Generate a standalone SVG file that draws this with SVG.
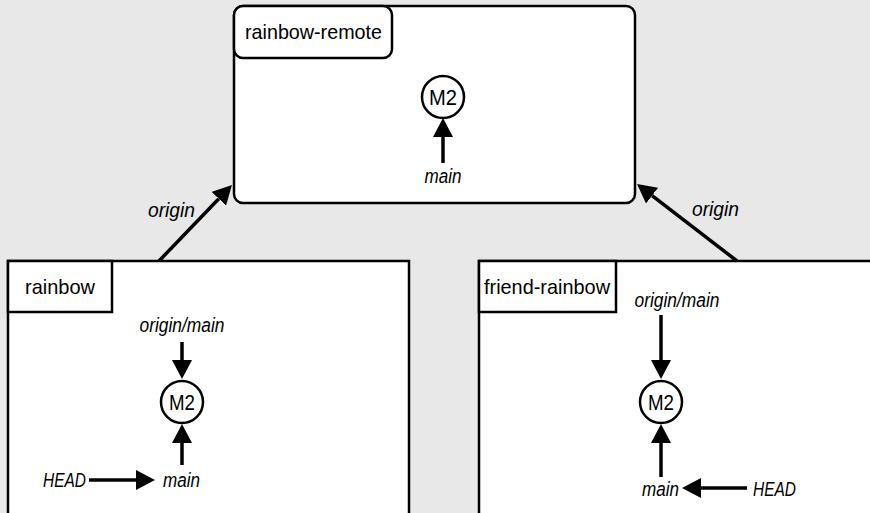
<svg xmlns="http://www.w3.org/2000/svg" width="870" height="513" viewBox="0 0 870 513">
<defs>
<marker id="ah" markerUnits="userSpaceOnUse" viewBox="0 0 19 20" markerWidth="19" markerHeight="20" refX="0" refY="10" orient="auto">
<path d="M0,0 L19,10 L0,20 z" fill="#000"/>
</marker>
<style>
.box{fill:#fff;stroke:#000;stroke-width:2.5}
.lbl{fill:#fff;stroke:#000;stroke-width:2.5}
.commit{fill:#fff;stroke:#000;stroke-width:2.5}
.t{font-family:"Liberation Sans",Arial,sans-serif;font-size:21px;fill:#000}
.m{font-family:"Liberation Sans",Arial,sans-serif;font-size:22px;fill:#000;text-anchor:middle}
.i{font-family:"Liberation Sans",Arial,sans-serif;font-size:20px;font-style:italic;fill:#000}
.c{text-anchor:middle}
.arr{stroke:#000;stroke-width:3.5;fill:none;marker-end:url(#ah)}
</style>
</defs>
<rect width="870" height="513" fill="#e8e8e8"/>

<g id="rainbow-remote">
<rect class="box" x="234" y="6" width="401" height="197" rx="9"/>
<rect class="lbl" x="234" y="6" width="158" height="52" rx="9"/>
<text class="t" x="245" y="39" textLength="137" lengthAdjust="spacingAndGlyphs">rainbow-remote</text>
<circle class="commit" cx="443" cy="97" r="21"/>
<text class="m" x="443" y="105" textLength="28" lengthAdjust="spacingAndGlyphs">M2</text>
<line class="arr" x1="443" y1="163" x2="443" y2="137"/>
<text class="i c" x="443" y="183" textLength="37" lengthAdjust="spacingAndGlyphs">main</text>
</g>

<g id="rainbow">
<rect class="box" x="8" y="261" width="401" height="262"/>
<rect class="lbl" x="8" y="261" width="104" height="51"/>
<text class="t" x="25" y="294" textLength="70" lengthAdjust="spacingAndGlyphs">rainbow</text>
<text class="i c" x="182" y="332" textLength="85" lengthAdjust="spacingAndGlyphs">origin/main</text>
<line class="arr" x1="182" y1="342" x2="182" y2="360"/>
<circle class="commit" cx="182" cy="402" r="21"/>
<text class="m" x="182" y="410" textLength="26" lengthAdjust="spacingAndGlyphs">M2</text>
<line class="arr" x1="182" y1="465" x2="182" y2="443"/>
<text class="i" x="43" y="487" textLength="43" lengthAdjust="spacingAndGlyphs">HEAD</text>
<line class="arr" x1="89" y1="480" x2="136" y2="480"/>
<text class="i" x="163" y="487" textLength="37" lengthAdjust="spacingAndGlyphs">main</text>
</g>

<g id="friend-rainbow">
<rect class="box" x="479" y="261" width="420" height="262"/>
<rect class="lbl" x="479" y="261" width="137" height="51"/>
<text class="t" x="484" y="294" textLength="126" lengthAdjust="spacingAndGlyphs">friend-rainbow</text>
<text class="i c" x="677" y="307" textLength="85" lengthAdjust="spacingAndGlyphs">origin/main</text>
<line class="arr" x1="661" y1="315" x2="661" y2="360"/>
<circle class="commit" cx="661" cy="402" r="21"/>
<text class="m" x="661" y="410" textLength="26" lengthAdjust="spacingAndGlyphs">M2</text>
<line class="arr" x1="661" y1="477" x2="661" y2="443"/>
<text class="i" x="642" y="496" textLength="37" lengthAdjust="spacingAndGlyphs">main</text>
<line class="arr" x1="747" y1="488" x2="701" y2="488"/>
<text class="i" x="753" y="496" textLength="43" lengthAdjust="spacingAndGlyphs">HEAD</text>
</g>

<g id="connectors">
<line class="arr" x1="159" y1="261" x2="218.8" y2="198.7"/>
<text class="i" x="148" y="217" textLength="47" lengthAdjust="spacingAndGlyphs">origin</text>
<line class="arr" x1="737" y1="261" x2="652.1" y2="195.6"/>
<text class="i" x="692" y="216" textLength="47" lengthAdjust="spacingAndGlyphs">origin</text>
</g>
</svg>
